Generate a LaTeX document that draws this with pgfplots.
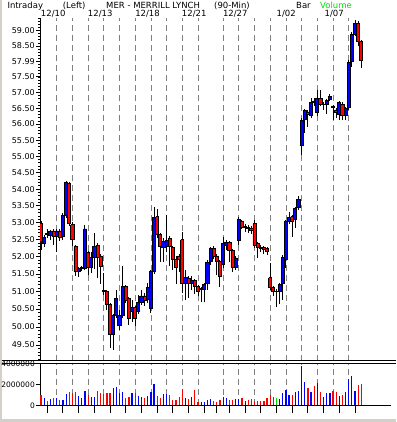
\documentclass[border=0pt]{standalone}
\usepackage{fontspec}
\setmainfont{DejaVu Sans}
\usepackage{pgfplots}
\usepackage{pgfplotstable}
\pgfplotsset{compat=1.18}
\definecolor{upc}{RGB}{0,0,255}
\definecolor{dnc}{RGB}{255,0,0}
\definecolor{flc}{RGB}{0,220,0}
\definecolor{gridc}{RGB}{128,128,128}
\definecolor{framec}{RGB}{212,208,200}

\pgfplotstableread{
i O H L C V
0 52.98 53.05 52.20 52.44 980000
1 52.37 52.64 52.29 52.57 670000
2 52.69 52.81 52.55 52.66 410000
3 52.61 52.78 52.49 52.73 600000
4 52.75 52.81 52.34 52.58 670000
5 52.58 52.81 52.14 52.75 730000
6 52.75 52.81 52.46 52.55 500000
7 52.58 53.29 52.49 53.20 500000
8 53.20 54.24 53.14 54.21 1080000
9 54.16 54.22 52.90 52.96 1270000
10 52.93 53.02 52.31 52.49 1200000
11 52.29 52.34 51.45 51.56 1270000
12 51.56 51.70 51.42 51.65 890000
13 51.66 51.73 51.59 51.69 670000
14 51.67 52.93 51.62 52.81 1330000
15 52.11 52.17 51.47 51.70 980000
16 51.70 52.14 51.53 51.99 790000
17 51.99 52.70 51.65 52.29 760000
18 52.34 52.40 51.39 51.99 1360000
19 52.02 52.08 51.22 51.73 1140000
20 51.02 51.53 50.90 50.99 1050000
21 50.99 51.04 50.48 50.62 1140000
22 50.62 50.68 49.42 49.80 1200000
23 49.80 50.37 49.36 50.31 1620000
24 50.31 51.04 50.26 50.79 1770000
25 50.03 50.48 49.92 50.31 1200000
26 50.31 51.73 50.26 51.13 1270000
27 51.13 51.19 50.68 50.73 730000
28 50.79 50.85 50.06 50.23 790000
29 50.42 50.76 50.14 50.54 1170000
30 50.54 50.59 50.03 50.23 1170000
31 50.42 50.90 50.37 50.70 890000
32 50.70 51.04 50.62 50.87 790000
33 50.87 50.96 50.59 50.73 670000
34 50.76 51.24 50.68 51.10 890000
35 50.51 51.62 50.40 51.56 1270000
36 51.56 53.47 51.50 53.14 2030000
37 53.17 53.41 52.55 52.64 890000
38 52.64 52.70 51.85 52.29 670000
39 52.26 52.55 51.85 52.43 1110000
40 52.29 53.23 52.14 52.46 1110000
41 52.52 52.61 51.73 52.29 980000
42 52.26 52.31 51.62 51.93 500000
43 51.91 52.02 51.22 51.70 500000
44 52.02 52.08 51.56 51.91 790000
45 52.49 52.73 50.96 51.24 1550000
46 51.24 51.62 50.76 51.39 700000
47 51.36 51.45 50.82 51.24 600000
48 51.24 51.45 51.04 51.30 790000
49 51.30 51.36 50.93 51.13 1490000
50 51.13 51.19 50.87 50.99 350000
51 51.06 51.13 50.70 51.08 310000
52 51.07 51.24 50.70 51.19 310000
53 51.22 51.91 51.04 51.82 500000
54 51.85 52.29 51.76 52.23 600000
55 52.23 52.31 51.93 52.02 410000
56 52.02 52.08 51.47 51.85 350000
57 51.85 51.91 51.13 51.42 500000
58 51.76 52.58 51.67 52.37 790000
59 52.34 52.49 52.20 52.40 670000
60 52.40 52.46 51.85 52.17 500000
61 52.17 52.23 51.56 51.70 500000
62 51.70 52.02 51.62 51.96 600000
63 52.46 53.17 52.34 53.08 600000
64 53.02 53.08 52.81 52.87 700000
65 52.86 52.96 52.73 52.89 410000
66 52.86 52.93 52.70 52.83 500000
67 52.84 52.90 52.67 52.78 600000
68 52.96 53.08 52.26 52.34 410000
69 52.37 52.43 51.96 52.26 410000
70 52.27 52.34 52.14 52.24 410000
71 52.26 52.31 52.08 52.20 410000
72 52.23 52.29 52.05 52.14 700000
73 51.39 51.82 51.04 51.10 980000
74 51.10 51.16 50.87 50.99 790000
75 50.99 51.07 50.56 50.99 670000
76 50.99 51.24 50.65 51.19 600000
77 51.22 52.05 50.76 51.99 1170000
78 51.91 53.08 51.67 53.02 1460000
79 53.02 53.32 52.96 53.14 980000
80 53.17 53.23 52.58 53.02 980000
81 53.08 53.47 52.84 53.41 1270000
82 53.44 53.80 53.38 53.68 1330000
83 55.32 56.19 55.04 56.10 3740000
84 56.13 56.48 55.72 56.41 2220000
85 56.38 56.44 55.91 56.29 1650000
86 56.26 56.82 56.19 56.67 1270000
87 56.71 56.82 56.57 56.68 1840000
88 56.35 57.08 56.26 56.82 2120000
89 56.82 57.08 56.57 56.63 1270000
90 56.60 56.70 56.44 56.63 790000
91 56.63 56.79 56.32 56.73 1170000
92 56.79 56.95 56.73 56.86 1170000
93 56.54 56.60 56.13 56.51 1390000
94 56.44 56.51 56.19 56.35 1270000
95 56.29 56.73 56.13 56.67 890000
96 56.63 56.70 56.13 56.26 980000
97 56.26 56.54 56.13 56.48 1270000
98 56.51 58.04 56.44 57.95 2500000
99 57.98 58.96 57.82 58.89 2790000
100 58.89 59.35 58.83 59.22 1360000
101 59.22 59.32 58.50 58.63 1930000
102 58.63 58.69 57.78 58.01 2060000
}\candles

\begin{document}
\begin{tikzpicture}
\useasboundingbox (0pt,0pt) rectangle (396pt,422pt);
\fill[white] (0pt,0pt) rectangle (396pt,422pt);
\fill[framec] (0pt,0pt) rectangle (1.6pt,422pt);
\fill[framec] (0pt,0pt) rectangle (396pt,2.8pt);

% price panel
\begin{axis}[
  at={(40pt,61.2pt)}, anchor=south west, scale only axis,
  width=351pt, height=342.8pt,
  xmin=-0.32, xmax=111.46,
  ymode=log, ymin=49.064, ymax=59.42,
  axis x line=bottom, axis y line=left,
  axis line style={-, line width=0.8pt},
  x axis line style={draw=none},
  xtick={5,10,15,20,25,30,35,40,45,50,58,63,68,73,78,83,88,93,98},
  xticklabels={}, xtick style={draw=none},
  xmajorgrids,
  major grid style={gridc, line width=0.8pt, dash pattern=on 6pt off 4pt},
  ytick={49.5,50,50.5,51,51.5,52,52.5,53,53.5,54,54.5,55,55.5,56,56.5,57,57.5,57.99,58.5,59},
  yticklabels={49.50,50.00,50.50,51.00,51.50,52.00,52.50,53.00,53.50,54.00,54.50,55.00,55.50,56.00,56.50,57.00,57.50,57.99,58.50,59.00},
  minor ytick={49.1,49.2,...,59.4},
  tick align=outside, major tick length=4pt, minor tick length=2pt,
  ytick style={black, line width=0.6pt},
  yticklabel style={font=\fontsize{8}{9}\selectfont, inner sep=1pt},
]
\pgfplotsinvokeforeach{0,...,102}{%
  \pgfplotstablegetelem{#1}{O}\of\candles \edef\vO{\pgfplotsretval}%
  \pgfplotstablegetelem{#1}{H}\of\candles \edef\vH{\pgfplotsretval}%
  \pgfplotstablegetelem{#1}{L}\of\candles \edef\vL{\pgfplotsretval}%
  \pgfplotstablegetelem{#1}{C}\of\candles \edef\vC{\pgfplotsretval}%
  \pgfmathsetmacro{\xa}{#1-0.5}\pgfmathsetmacro{\xb}{#1+0.5}%
  \pgfmathtruncatemacro{\dir}{\vC>\vO ? 1 : (\vC<\vO ? 2 : 0)}%
  \ifnum\dir=1 \def\fc{upc}\else\ifnum\dir=2 \def\fc{dnc}\else\def\fc{black}\fi\fi
  \edef\tmp{%
    \noexpand\addplot[black, line width=1pt, forget plot] coordinates {(#1,\vL) (#1,\vH)};
    \noexpand\addplot[draw=black, fill=\fc, line width=0.9pt, forget plot] coordinates {(\xa,\vO) (\xb,\vO) (\xb,\vC) (\xa,\vC) (\xa,\vO)};
  }\tmp
}
\end{axis}

% volume panel
\begin{axis}[
  at={(40pt,16.7pt)}, anchor=south west, scale only axis,
  width=351pt, height=42.3pt,
  xmin=-0.32, xmax=111.46, ymin=0, ymax=4030000,
  axis x line=bottom, axis y line=left,
  axis line style={-, line width=0.8pt},
  xtick={2,7,12,17,22,27,32,37,42,47,52,56,60,65,70,75,80,85,90,95,100},
  xticklabels={},
  xtick style={black, line width=1pt, /pgfplots/major tick length=8pt},
  extra x ticks={5,10,15,20,25,30,35,40,45,50,58,63,68,73,78,83,88,93,98},
  extra x tick labels={},
  extra x tick style={grid=major, tick style={draw=none}},
  major grid style={gridc, line width=0.8pt, dash pattern=on 6pt off 4pt},
  ytick={0,2000000,4000000}, yticklabels={0,2000000,4000000},
  scaled y ticks=false,
  tick align=outside, major tick length=4pt,
  ytick style={black, line width=0.6pt},
  yticklabel style={font=\fontsize{7.5}{9}\selectfont, inner sep=1pt},
]
\addplot[ycomb, upc, line width=1.2pt, restrict expr to domain={\thisrow{C}-\thisrow{O}}{0.0001:100}] table[x=i, y=V] {\candles};
\addplot[ycomb, dnc, line width=1.2pt, restrict expr to domain={\thisrow{C}-\thisrow{O}}{-100:-0.0001}] table[x=i, y=V] {\candles};
\addplot[ycomb, flc, line width=1.2pt, restrict expr to domain={\thisrow{C}-\thisrow{O}}{-0.00005:0.00005}] table[x=i, y=V] {\candles};
\end{axis}

% panel separator
\draw[black, line width=0.9pt] (1.6pt,61.2pt) -- (396pt,61.2pt);
\draw[black, line width=0.9pt] (1.6pt,59pt) -- (396pt,59pt);

% header
\begin{scope}[every node/.style={font=\fontsize{8.5}{10}\selectfont, inner sep=0pt, anchor=base west}]
\node at (7.3pt,413pt) {Intraday};
\node at (62.7pt,413pt) {(Left)};
\node at (106pt,413pt) {MER - MERRILL LYNCH};
\node at (214pt,413pt) {(90-Min)};
\node at (296pt,413pt) {Bar};
\node[text=flc] at (320pt,413pt) {Volume};
\end{scope}
\begin{scope}[every node/.style={font=\fontsize{8.5}{10}\selectfont, inner sep=0pt, anchor=base}]
\node at (53.2pt,405.3pt) {12/10};
\node at (100.2pt,405.3pt) {12/13};
\node at (147.5pt,405.3pt) {12/18};
\node at (194.2pt,405.3pt) {12/21};
\node at (235.3pt,405.3pt) {12/27};
\node at (286.2pt,405.3pt) {1/02};
\node at (334.2pt,405.3pt) {1/07};
\end{scope}
\end{tikzpicture}
\end{document}
